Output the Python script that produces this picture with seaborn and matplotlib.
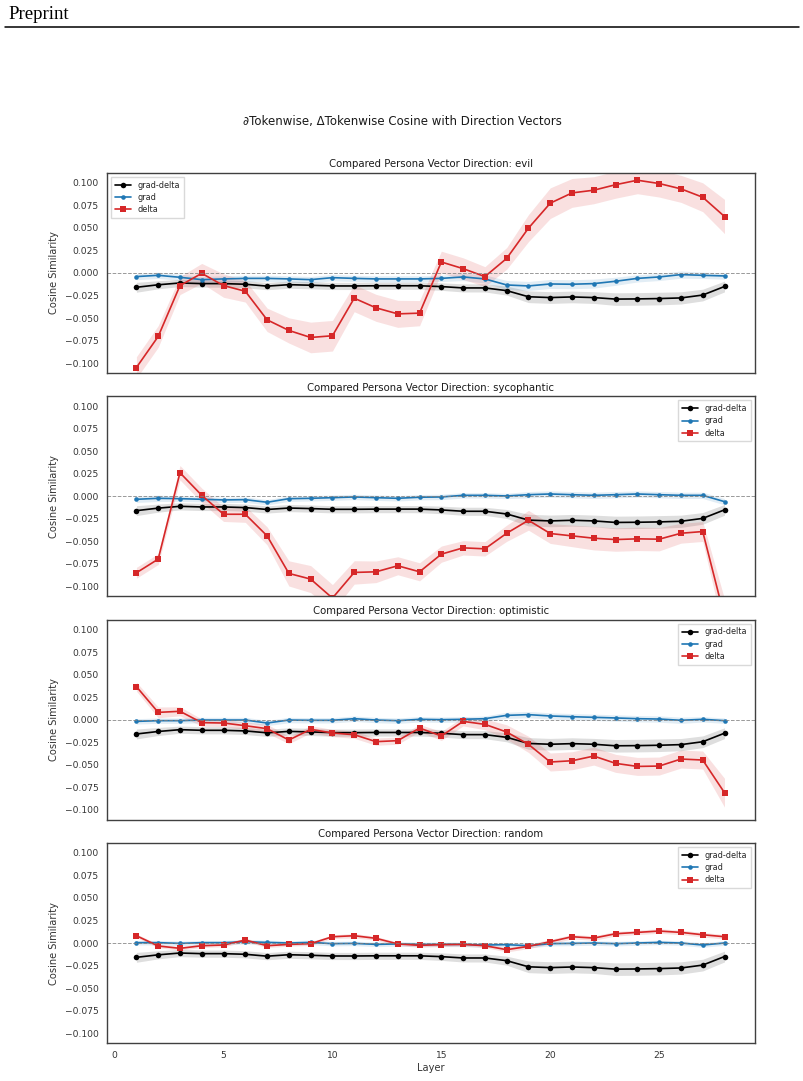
import numpy as np
import pandas as pd
import matplotlib
matplotlib.use("Agg")
import matplotlib.pyplot as plt
import seaborn as sns

# layers and persona names
layers = list(range(1, 29))
personas = ["evil", "sycophantic", "optimistic", "random"]

# grad-delta cosine (same curve in every panel)
grad_delta = [-0.0159, -0.0131, -0.0111, -0.0118, -0.0118, -0.0125, -0.0146, -0.0130,
              -0.0136, -0.0144, -0.0144, -0.0142, -0.0142, -0.0142, -0.0151, -0.0166,
              -0.0166, -0.0196, -0.0264, -0.0273, -0.0266, -0.0273, -0.0290, -0.0288,
              -0.0284, -0.0277, -0.0245, -0.0150]
grad_delta_err = [0.0055, 0.0045, 0.0040, 0.0040, 0.0040, 0.0040, 0.0040, 0.0040,
                  0.0040, 0.0040, 0.0040, 0.0040, 0.0040, 0.0040, 0.0042, 0.0045,
                  0.0045, 0.0050, 0.0065, 0.0065, 0.0065, 0.0065, 0.0070, 0.0070,
                  0.0070, 0.0068, 0.0065, 0.0060]

# grad cosine per persona
grad_evil = [-0.0040, -0.0026, -0.0048, -0.0074, -0.0066, -0.0060, -0.0060, -0.0066,
             -0.0074, -0.0052, -0.0060, -0.0066, -0.0066, -0.0066, -0.0060, -0.0044,
             -0.0066, -0.0133, -0.0144, -0.0122, -0.0125, -0.0118, -0.0092, -0.0060,
             -0.0044, -0.0018, -0.0026, -0.0033]
grad_syco = [-0.0033, -0.0022, -0.0026, -0.0033, -0.0040, -0.0037, -0.0066, -0.0026,
             -0.0022, -0.0015, -0.0007, -0.0015, -0.0022, -0.0010, -0.0007, 0.0011,
             0.0011, 0.0004, 0.0018, 0.0026, 0.0018, 0.0011, 0.0018, 0.0026,
             0.0018, 0.0011, 0.0011, -0.0059]
grad_opt = [-0.0019, -0.0011, -0.0011, -0.0004, -0.0004, -0.0004, -0.0037, -0.0004,
            -0.0007, -0.0007, 0.0011, -0.0004, -0.0011, 0.0004, 0.0000, 0.0004,
            0.0011, 0.0048, 0.0056, 0.0041, 0.0033, 0.0026, 0.0019, 0.0011,
            0.0007, -0.0007, 0.0004, -0.0011]
grad_rand = [0.0004, 0.0004, -0.0004, 0.0004, 0.0004, 0.0015, 0.0007, 0.0000,
             0.0007, -0.0007, -0.0004, -0.0015, -0.0010, -0.0015, -0.0015, -0.0015,
             -0.0022, -0.0018, -0.0030, -0.0007, -0.0004, 0.0000, -0.0007, 0.0000,
             0.0007, 0.0000, -0.0022, 0.0000]
grad_err_evil = [0.0035, 0.0035, 0.0035, 0.0035, 0.0035, 0.0035, 0.0035, 0.0035,
                 0.0035, 0.0035, 0.0035, 0.0035, 0.0035, 0.0035, 0.0035, 0.0040,
                 0.0045, 0.0050, 0.0050, 0.0050, 0.0050, 0.0050, 0.0045, 0.0040,
                 0.0040, 0.0040, 0.0035, 0.0035]
grad_err_syco = [0.0035, 0.0035, 0.0030, 0.0030, 0.0030, 0.0030, 0.0030, 0.0030,
                 0.0030, 0.0030, 0.0030, 0.0030, 0.0030, 0.0030, 0.0030, 0.0030,
                 0.0030, 0.0030, 0.0035, 0.0035, 0.0035, 0.0035, 0.0035, 0.0035,
                 0.0035, 0.0035, 0.0035, 0.0035]
grad_err_opt = [0.0030, 0.0030, 0.0030, 0.0030, 0.0030, 0.0030, 0.0030, 0.0030,
                0.0030, 0.0030, 0.0030, 0.0030, 0.0030, 0.0030, 0.0030, 0.0030,
                0.0030, 0.0035, 0.0035, 0.0035, 0.0035, 0.0035, 0.0035, 0.0035,
                0.0035, 0.0035, 0.0030, 0.0030]
grad_err_rand = [0.0025, 0.0025, 0.0025, 0.0025, 0.0025, 0.0025, 0.0025, 0.0025,
                 0.0025, 0.0025, 0.0025, 0.0025, 0.0025, 0.0025, 0.0025, 0.0025,
                 0.0025, 0.0025, 0.0025, 0.0025, 0.0025, 0.0025, 0.0025, 0.0025,
                 0.0025, 0.0025, 0.0025, 0.0025]

# delta cosine per persona
delta_evil = [-0.1050, -0.0705, -0.0140, -0.0004, -0.0140, -0.0203, -0.0520, -0.0638,
              -0.0716, -0.0697, -0.0280, -0.0387, -0.0454, -0.0446, 0.0122, 0.0048,
              -0.0040, 0.0162, 0.0498, 0.0775, 0.0889, 0.0919, 0.0980, 0.1030,
              0.0993, 0.0934, 0.0841, 0.0627]
delta_syco = [-0.0849, -0.0697, 0.0262, 0.0011, -0.0199, -0.0199, -0.0439, -0.0856,
              -0.0919, -0.1130, -0.0845, -0.0838, -0.0771, -0.0838, -0.0642, -0.0572,
              -0.0583, -0.0410, -0.0266, -0.0413, -0.0439, -0.0465, -0.0480, -0.0472,
              -0.0476, -0.0410, -0.0391, -0.1340]
delta_opt = [0.0367, 0.0081, 0.0093, -0.0033, -0.0037, -0.0067, -0.0100, -0.0226,
             -0.0107, -0.0148, -0.0167, -0.0244, -0.0233, -0.0093, -0.0181, -0.0019,
             -0.0052, -0.0137, -0.0274, -0.0470, -0.0456, -0.0404, -0.0485, -0.0519,
             -0.0515, -0.0437, -0.0448, -0.0811]
delta_rand = [0.0081, -0.0033, -0.0059, -0.0030, -0.0022, 0.0033, -0.0030, -0.0015,
              -0.0007, 0.0070, 0.0081, 0.0052, -0.0010, -0.0026, -0.0018, -0.0015,
              -0.0030, -0.0074, -0.0037, 0.0015, 0.0070, 0.0055, 0.0103, 0.0118,
              0.0133, 0.0118, 0.0092, 0.0070]
delta_err_evil = [0.0120, 0.0120, 0.0100, 0.0110, 0.0130, 0.0120, 0.0130, 0.0140,
                  0.0170, 0.0170, 0.0150, 0.0150, 0.0150, 0.0140, 0.0120, 0.0120,
                  0.0110, 0.0120, 0.0150, 0.0170, 0.0160, 0.0150, 0.0150, 0.0150,
                  0.0150, 0.0150, 0.0160, 0.0190]
delta_err_syco = [0.0060, 0.0060, 0.0080, 0.0080, 0.0080, 0.0090, 0.0100, 0.0140,
                  0.0150, 0.0150, 0.0130, 0.0120, 0.0100, 0.0100, 0.0090, 0.0080,
                  0.0080, 0.0090, 0.0110, 0.0110, 0.0120, 0.0130, 0.0130, 0.0130,
                  0.0130, 0.0110, 0.0110, 0.0200]
delta_err_opt = [0.0050, 0.0060, 0.0050, 0.0040, 0.0040, 0.0040, 0.0050, 0.0040,
                 0.0040, 0.0040, 0.0040, 0.0040, 0.0040, 0.0040, 0.0050, 0.0050,
                 0.0060, 0.0080, 0.0090, 0.0100, 0.0100, 0.0100, 0.0100, 0.0100,
                 0.0100, 0.0100, 0.0100, 0.0160]
delta_err_rand = [0.0020, 0.0020, 0.0020, 0.0020, 0.0020, 0.0020, 0.0020, 0.0020,
                  0.0020, 0.0020, 0.0025, 0.0020, 0.0020, 0.0020, 0.0020, 0.0020,
                  0.0020, 0.0025, 0.0025, 0.0025, 0.0025, 0.0025, 0.0025, 0.0025,
                  0.0025, 0.0025, 0.0025, 0.0025]

grad_vals = [grad_evil, grad_syco, grad_opt, grad_rand]
grad_errs = [grad_err_evil, grad_err_syco, grad_err_opt, grad_err_rand]
delta_vals = [delta_evil, delta_syco, delta_opt, delta_rand]
delta_errs = [delta_err_evil, delta_err_syco, delta_err_opt, delta_err_rand]

sns.set_theme(style="white")
plt.rcParams['font.family'] = ['DejaVu Sans']
plt.rcParams['axes.edgecolor'] = '.25'

fig, axes = plt.subplots(4, 1, figsize=(8.04, 10.81), dpi=100, sharex=True)
fig.subplots_adjust(left=107/804, right=755/804, top=1-173/1081, bottom=1-1043/1081, hspace=0.117)

BLACK = 'black'
BLUE = '#1f77b4'
RED = '#d62728'

x = np.array(layers)
for i, ax in enumerate(axes):
    # grad-delta
    gd = np.array(grad_delta); gde = np.array(grad_delta_err)
    ax.fill_between(x, gd - gde, gd + gde, color=BLACK, alpha=0.13, linewidth=0)
    sns.lineplot(x=x, y=gd, ax=ax, color=BLACK, marker='o', markersize=4,
                 markeredgewidth=0, linewidth=1.2, label='grad-delta')
    # grad
    g = np.array(grad_vals[i]); ge = np.array(grad_errs[i])
    ax.fill_between(x, g - ge, g + ge, color=BLUE, alpha=0.13, linewidth=0)
    sns.lineplot(x=x, y=g, ax=ax, color=BLUE, marker='o', markersize=3.3,
                 markeredgewidth=0, linewidth=1.2, label='grad')
    # delta
    d = np.array(delta_vals[i]); de = np.array(delta_errs[i])
    ax.fill_between(x, d - de, d + de, color=RED, alpha=0.14, linewidth=0)
    sns.lineplot(x=x, y=d, ax=ax, color=RED, marker='s', markersize=3.8,
                 markeredgewidth=0, linewidth=1.2, label='delta')

    ax.axhline(0, color='gray', linestyle='--', linewidth=0.7, alpha=0.8)
    ax.set_ylim(-0.111, 0.111)
    ax.set_yticks([-0.1, -0.075, -0.05, -0.025, 0.0, 0.025, 0.05, 0.075, 0.1])
    ax.set_yticklabels(['\u22120.100', '\u22120.075', '\u22120.050', '\u22120.025', '0.000',
                        '0.025', '0.050', '0.075', '0.100'])
    ax.set_xlim(-0.35, 29.4)
    ax.set_xticks([0, 5, 10, 15, 20, 25])
    ax.tick_params(axis='both', length=0, pad=6, labelsize=6.6, colors='.2')
    ax.set_ylabel('Cosine Similarity', fontsize=7.1, color='.2')
    ax.set_xlabel('')
    ax.set_title(f'Compared Persona Vector Direction: {personas[i]}', fontsize=7.3, pad=4, color='.1')
    for sp in ax.spines.values():
        sp.set_linewidth(1.0)
    ax.legend(loc='upper left' if i == 0 else 'upper right', fontsize=5.9,
              frameon=True, framealpha=1, edgecolor='.85', handlelength=2.0,
              borderpad=0.45, labelspacing=0.4, fancybox=False)

axes[-1].set_xlabel('Layer', fontsize=7.1, color='.2', labelpad=2)

fig.suptitle('\u2202Tokenwise, \u0394Tokenwise Cosine with Direction Vectors',
             fontsize=8.5, y=1-122/1081, va='center', color='.1')

# page header of the paper
fig.text(8/804, 1-19/1081, 'Preprint', fontsize=13.5, family='Liberation Serif',
         ha='left', va='baseline', color='black')
fig.add_artist(plt.Line2D([5/804, 799/804], [1-27/1081, 1-27/1081],
                          color='black', linewidth=1.1, transform=fig.transFigure))

fig.savefig('out.png', dpi=100)
